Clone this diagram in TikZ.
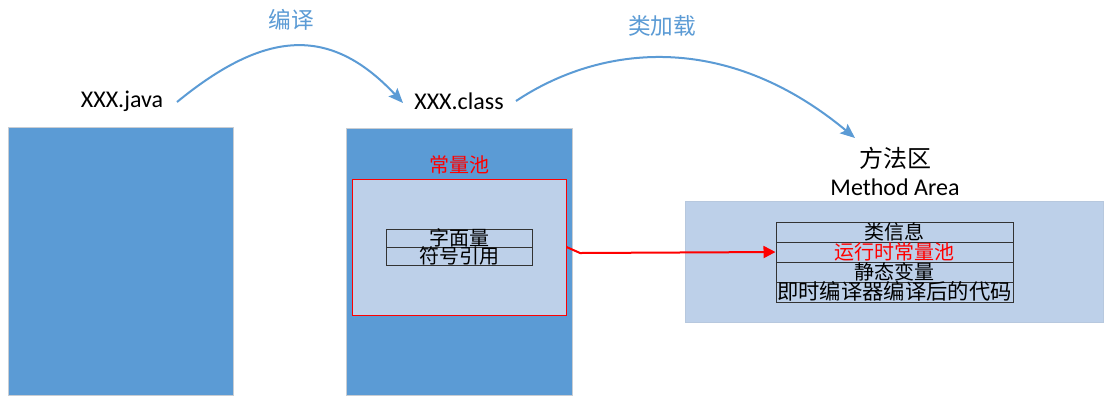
\documentclass[tikz,border=0pt]{standalone}
\usepackage{fontspec}
\setmainfont{Carlito}
\newfontfamily\cjk{Noto Sans CJK SC}
\usetikzlibrary{arrows.meta}
\definecolor{mblue}{HTML}{5B9BD5}
\definecolor{lblue}{HTML}{BDD0E9}
\definecolor{edgegray}{HTML}{C8CDD3}
\begin{document}
\begin{tikzpicture}[x=0.75pt,y=-0.75pt,
  bigbox/.style={draw=edgegray,line width=0.75pt,fill=mblue,inner sep=0pt},
  row/.style={draw=black!80,line width=0.75pt,inner sep=0pt,text height=11.4pt,text depth=0pt,
    font=\cjk\fontsize{15pt}{18pt}\selectfont},
  lbl/.style={inner sep=0pt,font=\fontsize{18pt}{22pt}\selectfont},
  clbl/.style={inner sep=0pt,font=\cjk\fontsize{17pt}{20pt}\selectfont,text=mblue},
  arc/.style={draw=mblue,line width=1.5pt,-{Stealth[length=11pt,width=9pt,inset=2pt]}},
  redarrow/.style={draw=red,line width=1.5pt,-{Triangle[length=9pt,width=9pt]}}]
\useasboundingbox (0,0) rectangle (1112,405);
\fill[white] (0,0) rectangle (1112,405);

% left box
\node[bigbox,minimum width=168.75pt,minimum height=201pt] (leftbox) at (120.5,261) {};
% middle box
\node[bigbox,minimum width=169.5pt,minimum height=200.25pt] (midbox) at (459,261.5) {};
\node[draw=red,line width=0.75pt,fill=lblue,inner sep=0pt,minimum width=160.5pt,minimum height=102pt] (pool) at (459,247) {};
\node[inner sep=0pt,text=red,font=\cjk\fontsize{15pt}{18pt}\selectfont] (pooltitle) at (459,165) {常量池};
\node[row,minimum width=109.5pt,minimum height=13.5pt] (lit) at (459,238) {字面量};
\node[row,minimum width=109.5pt,minimum height=13.5pt] (sym) at (459,256) {符号引用};

% right area
\node[draw=lblue!90!gray,line width=0.5pt,fill=lblue,inner sep=0pt,minimum width=313.5pt,minimum height=90.75pt] (area) at (894,261.5) {};
\node[row,minimum width=177.75pt,minimum height=15pt] (r1) at (894.5,232) {类信息};
\node[row,minimum width=177.75pt,minimum height=15pt,text=red] (r2) at (894.5,252) {运行时常量池};
\node[row,minimum width=177.75pt,minimum height=15pt] (r3) at (894.5,272) {静态变量};
\node[row,minimum width=177.75pt,minimum height=15pt,font=\cjk\fontsize{16pt}{18pt}\selectfont] (r4) at (894.5,292) {即时编译器编译后的代码};

\node[inner sep=0pt,font=\cjk\fontsize{18pt}{22pt}\selectfont] (mzh) at (895,158) {方法区};
\node[lbl] (men) at (895,187) {Method Area};

% file labels
\node[lbl] (java) at (122,101) {XXX.java};
\node[lbl] (cls) at (459,101) {XXX.class};
\node[clbl] (compile) at (291,20) {编译};
\node[clbl] (load) at (662,26) {类加载};

\coordinate (a1s) at (177,102);
\coordinate (a1e) at (403,103);
\coordinate (a2s) at (516,101);
\coordinate (a2e) at (855,138);
\draw[arc] (a1s) .. controls (265,30) and (330,25) .. (a1e);
\draw[arc] (a2s) .. controls (600,45) and (725,30) .. (a2e);

\coordinate (bend) at (580,253);
\draw[redarrow] (pool.east) -- (bend) -- (r2.west);
\end{tikzpicture}
\end{document}
